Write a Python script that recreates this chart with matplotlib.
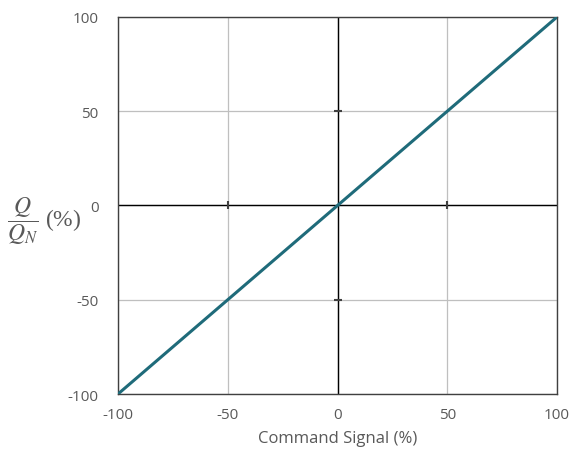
import numpy as np
import matplotlib.pyplot as plt

plt.rcParams['font.family'] = ['Open Sans', 'DejaVu Sans']
plt.rcParams['mathtext.fontset'] = 'stix'

# data
command = [-100, 0, 100]
flow = [-100, 0, 100]
ticks = [-100, -50, 0, 50, 100]
minor_marks = [-50, 50]

grey_txt = '#595959'
line_col = '#1f6b7a'

fig = plt.figure(figsize=(5.74, 4.52), dpi=100)
ax = fig.add_axes([0.2056, 0.1261, 0.7648, 0.8341])

ax.set_xlim(-100, 100)
ax.set_ylim(-100, 100)
ax.set_xticks(ticks)
ax.set_yticks(ticks)
ax.set_xticklabels([str(t) for t in ticks], color=grey_txt, fontsize=11)
ax.set_yticklabels([str(t) for t in ticks], color=grey_txt, fontsize=11)
ax.tick_params(axis='x', length=0, pad=9)
ax.tick_params(axis='y', length=0, pad=14)
ax.grid(True, color='#bfbfbf', linewidth=0.9)

for s in ax.spines.values():
    s.set_color('#404040')
    s.set_linewidth(1.0)

# zero axes with small tick marks
ax.axhline(0, color='black', linewidth=1.0, zorder=2)
ax.axvline(0, color='black', linewidth=1.0, zorder=2)
ax.plot(minor_marks, [0] * len(minor_marks), linestyle='none', marker='|',
        markersize=6, color='#404040', markeredgewidth=1.5, zorder=3)
ax.plot([0] * len(minor_marks), minor_marks, linestyle='none', marker='_',
        markersize=6, color='#404040', markeredgewidth=1.5, zorder=3)

ax.plot(command, flow, color=line_col, linewidth=2.2, zorder=4)

ax.set_xlabel('Command Signal (%)', color=grey_txt, fontsize=12, labelpad=6)
fig.text(0.012, 0.51, r'$\dfrac{Q}{Q_N}$ (%)', color=grey_txt,
         fontsize=17, ha='left', va='center', family='Liberation Serif')

fig.savefig('out.png', dpi=100)
